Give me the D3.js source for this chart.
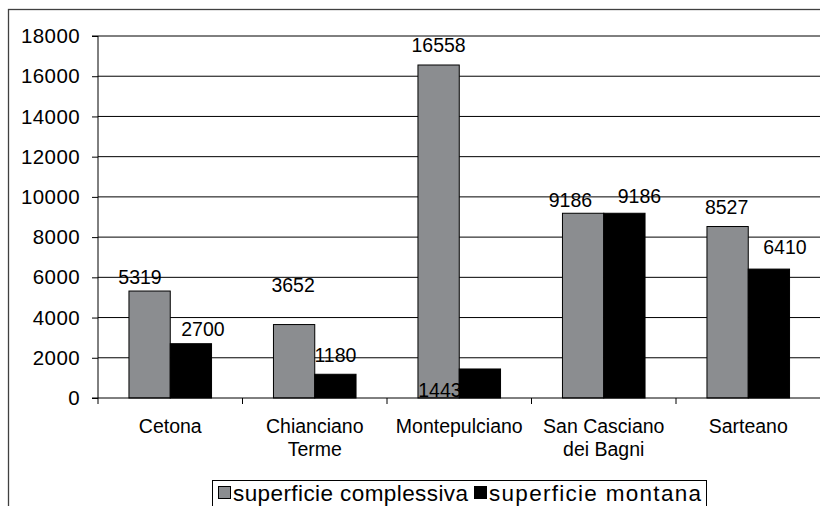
<!DOCTYPE html>
<html>
<head>
<meta charset="utf-8">
<script src="https://cdn.jsdelivr.net/npm/d3@7"></script>
<style>
  html, body { margin: 0; padding: 0; background: #fff; }
  svg { display: block; font-family: "Liberation Sans", Arial, sans-serif; }
</style>
</head>
<body>
<svg id="chart" width="820" height="506"></svg>
<script>
// ---- data ----
const categories = ["Cetona", "Chianciano Terme", "Montepulciano", "San Casciano dei Bagni", "Sarteano"];
const categoryLines = [["Cetona"], ["Chianciano", "Terme"], ["Montepulciano"], ["San Casciano", "dei Bagni"], ["Sarteano"]];
const seriesNames = ["superficie complessiva", "superficie montana"];
const complessiva = [5319, 3652, 16558, 9186, 8527];
const montana = [2700, 1180, 1443, 9186, 6410];
const yTicks = [0, 2000, 4000, 6000, 8000, 10000, 12000, 14000, 16000, 18000];

// label nudges as seen in the reference (layout only)
const labelLift = [[7.5, 7.7], [32.6, 12.6], [12.7, -28], [6, 10.6], [13, 15]];
const labelShift = [[-9.6, 12], [-1, 0], [0, -40], [-12.7, 15], [-1, 16]];

const colors = ["#8b8d90", "#000000"];

const svg = d3.select("#chart");
const plotLeft = 98, plotRight = 820.5, plotTop = 36, plotBottom = 398;

// outer frame
svg.append("rect").attr("x", 8.5).attr("y", 9.5).attr("width", 830).attr("height", 520)
  .attr("fill", "none").attr("stroke", "#404040").attr("stroke-width", 1.3);

const x0 = d3.scaleBand().domain(categories).range([plotLeft, plotRight]).paddingInner(0).paddingOuter(0);
const bw = x0.bandwidth();
const barW = bw / 3.5;
const x1 = d3.scaleBand().domain(seriesNames).range([bw * 0.75 / 3.5, bw * 0.75 / 3.5 + 2 * barW]);
const y = d3.scaleLinear().domain([0, 18000]).range([plotBottom, plotTop]);

// gridlines
svg.append("g").selectAll("line").data(yTicks.filter(d => d > 0)).join("line")
  .attr("x1", plotLeft).attr("x2", plotRight)
  .attr("y1", d => y(d)).attr("y2", d => y(d))
  .attr("stroke", "#000").attr("stroke-width", 1);

// bars
const data = categories.map((c, i) => ({ c, i, vals: [complessiva[i], montana[i]] }));
const groups = svg.append("g").selectAll("g").data(data).join("g")
  .attr("transform", d => `translate(${x0(d.c)},0)`);
groups.selectAll("rect").data(d => d.vals.map((v, k) => ({ v, k, i: d.i }))).join("rect")
  .attr("x", d => x1(seriesNames[d.k]))
  .attr("width", x1.bandwidth())
  .attr("y", d => y(d.v))
  .attr("height", d => y(0) - y(d.v))
  .attr("fill", d => colors[d.k])
  .attr("stroke", "#000").attr("stroke-width", 1);

// value labels
groups.selectAll("text").data(d => d.vals.map((v, k) => ({ v, k, i: d.i }))).join("text")
  .attr("x", d => x1(seriesNames[d.k]) + x1.bandwidth() / 2 + labelShift[d.i][d.k])
  .attr("y", d => y(d.v) - labelLift[d.i][d.k])
  .attr("text-anchor", "middle")
  .attr("font-size", 19.5)
  .attr("fill", "#000")
  .text(d => d.v);

// y axis
const yAxis = d3.axisLeft(y).tickValues(yTicks).tickSize(6).tickPadding(12).tickFormat(d3.format("d"));
const gy = svg.append("g").attr("transform", `translate(${plotLeft},0)`).call(yAxis);
gy.selectAll("path, line").attr("stroke", "#000");
gy.select(".domain").attr("d", `M-6,${plotTop}H0V${plotBottom}H-6`);
gy.selectAll("text").attr("font-size", 20.5).attr("letter-spacing", 0.4).attr("fill", "#000")
  .attr("font-family", "Liberation Sans, Arial, sans-serif");

// x axis
const gx = svg.append("g").attr("transform", `translate(0,${plotBottom})`);
gx.append("line").attr("x1", plotLeft).attr("x2", plotRight).attr("stroke", "#000");
const bounds = categories.map(c => x0(c)).concat([plotRight]);
gx.selectAll("line.tick").data(bounds).join("line").attr("class", "tick")
  .attr("x1", d => d).attr("x2", d => d).attr("y1", 0).attr("y2", 6).attr("stroke", "#000");
const lab = gx.selectAll("text").data(categories).join("text")
  .attr("x", d => x0(d) + bw / 2)
  .attr("y", 35)
  .attr("text-anchor", "middle")
  .attr("font-size", 19.5)
  .attr("fill", "#000");
lab.each(function (d, i) {
  d3.select(this).selectAll("tspan").data(categoryLines[i]).join("tspan")
    .attr("x", x0(d) + bw / 2)
    .attr("dy", (t, j) => j === 0 ? 0 : 23)
    .text(t => t);
});

// legend
const lg = svg.append("g");
lg.append("rect").attr("x", 212.5).attr("y", 480.5).attr("width", 494).attr("height", 40)
  .attr("fill", "#fff").attr("stroke", "#000").attr("stroke-width", 1);
const legendX = [218, 474];
const legendTextW = [235, 212];
seriesNames.forEach((s, k) => {
  lg.append("rect").attr("x", legendX[k] + 0.5).attr("y", 486.5).attr("width", 12).attr("height", 12)
    .attr("fill", colors[k]).attr("stroke", "#000").attr("stroke-width", 1);
  lg.append("text").attr("x", legendX[k] + 15).attr("y", 500.5)
    .attr("font-size", 22.5).attr("fill", "#000")
    .attr("textLength", legendTextW[k]).attr("lengthAdjust", "spacing")
    .text(s);
});
</script>
</body>
</html>
